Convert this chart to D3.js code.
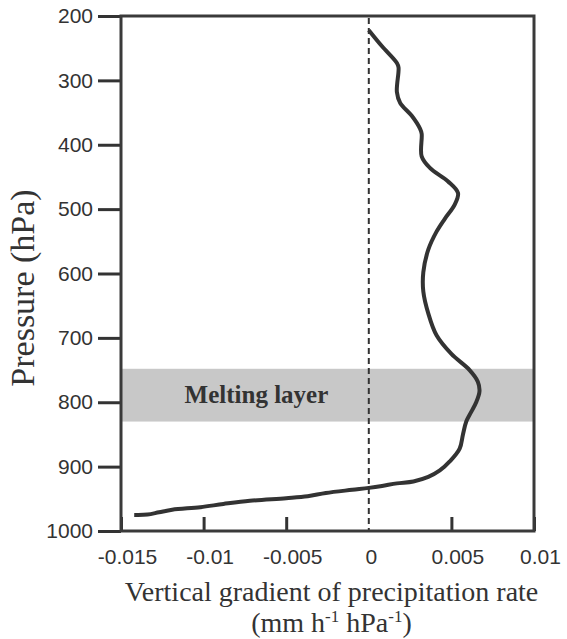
<!DOCTYPE html>
<html>
<head>
<meta charset="utf-8">
<script src="https://cdn.jsdelivr.net/npm/d3@7"></script>
<style>
  html, body { margin: 0; padding: 0; background: #fff; }
  svg { display: block; }
</style>
</head>
<body>
<svg id="chart" width="567" height="639"></svg>
<script>
// ---- data ----
const pressure = [222, 247, 273, 280, 318, 335, 355, 375, 383, 418, 436, 457, 475, 493, 515, 535, 563, 598, 628, 662, 696, 725, 750, 768, 783, 800, 815, 830, 850, 872, 892, 906, 916, 923, 926, 930, 933, 936, 941, 946, 949, 953, 958, 963, 967, 971, 974.5, 975];
const gradient = [0.0000, 0.0008, 0.0017, 0.0018, 0.0017, 0.0019, 0.0026, 0.0031, 0.0032, 0.0032, 0.0037, 0.0048, 0.0054, 0.0052, 0.0046, 0.0041, 0.0036, 0.0033, 0.0033, 0.0036, 0.0041, 0.0050, 0.0061, 0.0066, 0.0067, 0.0065, 0.0062, 0.0059, 0.0057, 0.0055, 0.0049, 0.0043, 0.0036, 0.0027, 0.0017, 0.0008, 0.0000, -0.0010, -0.0026, -0.0037, -0.0050, -0.0072, -0.0088, -0.0102, -0.0119, -0.0127, -0.0134, -0.0142];
const xTicks = [-0.015, -0.01, -0.005, 0, 0.005, 0.01];
const xTickLabels = ["-0.015", "-0.01", "-0.005", "0", "0.005", "0.01"];
const yTicks = [200, 300, 400, 500, 600, 700, 800, 900, 1000];
const meltingLayer = [748, 830];
const meltingLabel = "Melting layer";
const xTitle = "Vertical gradient of precipitation rate";
const yTitle = "Pressure (hPa)";

// ---- layout ----
const margin = {left: 121, top: 16, right: 33, bottom: 108};
const W = 567, H = 639;
const iw = W - margin.left - margin.right;  // 413
const ih = H - margin.top - margin.bottom;  // 515
const ink = "#333";
const serif = "'Liberation Serif', 'Times New Roman', Times, serif";
const sans = "'Liberation Sans', Arial, Helvetica, sans-serif";

const svg = d3.select("#chart");
const g = svg.append("g").attr("transform", `translate(${margin.left},${margin.top})`);

const x = d3.scaleLinear().domain([-0.015, 0.01]).range([0, iw]);
const y = d3.scaleLinear().domain([200, 1000]).range([0, ih]);

// melting layer band
g.append("rect")
  .attr("x", 0).attr("width", iw)
  .attr("y", y(meltingLayer[0]))
  .attr("height", y(meltingLayer[1]) - y(meltingLayer[0]))
  .attr("fill", "#c8c8c8");

g.append("text")
  .attr("x", x(-0.0068)).attr("y", y(800) + 1)
  .attr("text-anchor", "middle")
  .attr("font-family", serif)
  .attr("font-weight", "bold")
  .attr("font-size", 25)
  .attr("fill", ink)
  .text(meltingLabel);

// zero dashed line
g.append("line")
  .attr("x1", x(0)).attr("x2", x(0))
  .attr("y1", 2).attr("y2", ih)
  .attr("stroke", ink).attr("stroke-width", 2)
  .attr("stroke-dasharray", "6,4");

// profile curve
const pts = pressure.map((p, i) => [gradient[i], p]);
const lineGen = d3.line().x(d => x(d[0])).y(d => y(d[1])).curve(d3.curveCatmullRom.alpha(0.5));
g.append("path")
  .attr("d", lineGen(pts))
  .attr("fill", "none")
  .attr("stroke", ink)
  .attr("stroke-width", 4)
  .attr("stroke-linejoin", "round");

// y axis: ticks outward
const yAxis = d3.axisLeft(y).tickValues(yTicks).tickSize(23).tickPadding(5).tickFormat(d3.format("d"));
const ya = g.append("g").call(yAxis);
ya.select(".domain").remove();
ya.selectAll(".tick line").attr("stroke", ink).attr("stroke-width", 3);
ya.selectAll(".tick text")
  .attr("font-family", sans)
  .attr("font-size", 21)
  .attr("fill", ink);

// x axis: ticks inward
const xAxis = d3.axisBottom(x).tickValues(xTicks).tickSize(-14).tickPadding(0)
  .tickFormat((d, i) => xTickLabels[i]);
const xa = g.append("g").attr("transform", `translate(0,${ih})`).call(xAxis);
xa.select(".domain").remove();
xa.selectAll(".tick line").attr("stroke", ink).attr("stroke-width", 3)
  .attr("display", d => (d === 0 ? "none" : null));
xa.selectAll(".tick text")
  .attr("y", 33)
  .attr("dy", 0)
  .attr("dx", d => (d === 0 ? 2 : 6))
  .attr("font-family", sans)
  .attr("font-size", 21)
  .attr("fill", ink);

// frame
g.append("rect")
  .attr("x", 0).attr("y", 0).attr("width", iw).attr("height", ih)
  .attr("fill", "none").attr("stroke", "#3a3a3a").attr("stroke-width", 3);

// axis titles
svg.append("text")
  .attr("x", margin.left + iw / 2 + 4).attr("y", 601)
  .attr("text-anchor", "middle")
  .attr("font-family", serif).attr("font-size", 28).attr("fill", ink)
  .text(xTitle);

const unit = svg.append("text")
  .attr("x", margin.left + iw / 2 + 4).attr("y", 632)
  .attr("text-anchor", "middle")
  .attr("font-family", serif).attr("font-size", 28).attr("fill", ink);
unit.append("tspan").text("(mm h");
unit.append("tspan").attr("font-size", 17).attr("dy", -10).text("-1");
unit.append("tspan").attr("dy", 10).text(" hPa");
unit.append("tspan").attr("font-size", 17).attr("dy", -10).text("-1");
unit.append("tspan").attr("dy", 10).text(")");

svg.append("text")
  .attr("transform", `translate(34,${288}) rotate(-90)`)
  .attr("text-anchor", "middle")
  .attr("font-family", serif).attr("font-size", 34).attr("fill", ink)
  .text(yTitle);
</script>
</body>
</html>
